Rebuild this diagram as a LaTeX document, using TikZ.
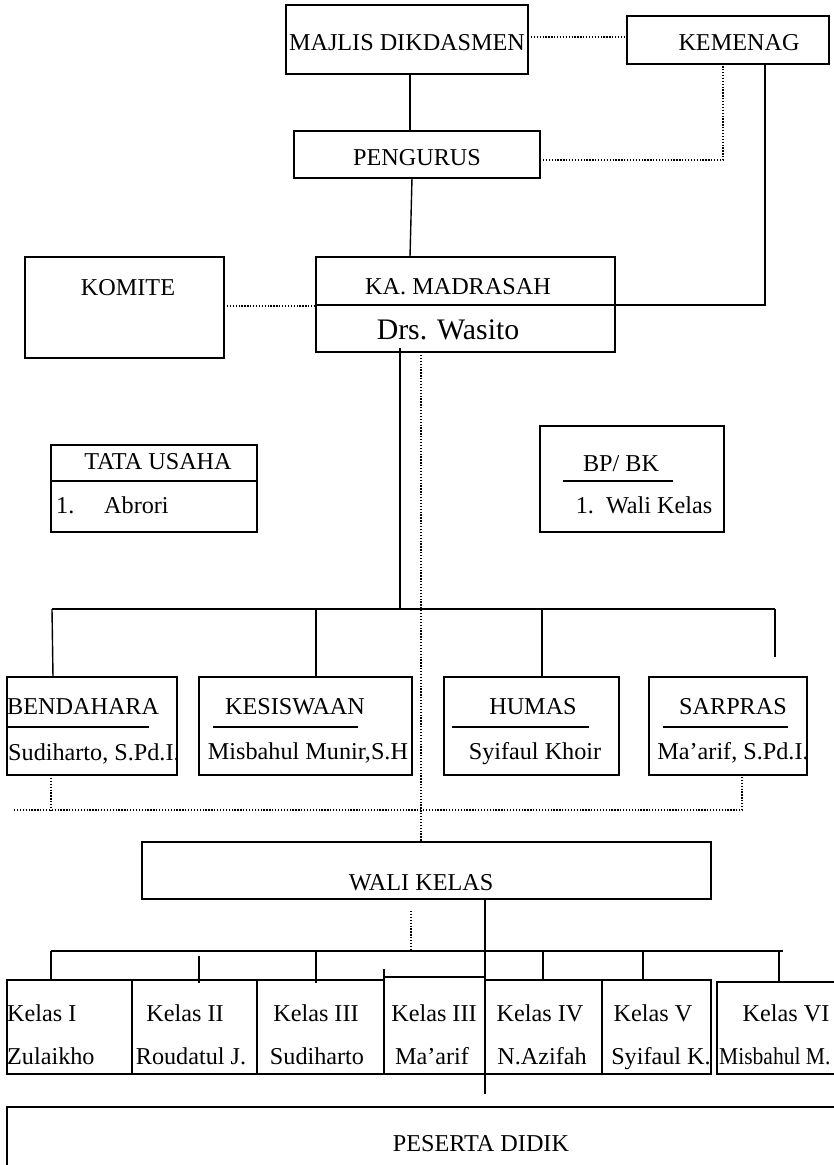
\documentclass[tikz,border=0pt]{standalone}
\usepackage{fontspec}
\setmainfont{Liberation Serif}
\begin{document}
\begin{tikzpicture}[x=1pt,y=-1pt,
  box/.style={draw,line width=1.6pt,inner sep=0pt,outer sep=0pt},
  txt/.style={inner sep=0pt,text height=16pt,text depth=0pt,font=\fontsize{24.2}{29}\selectfont},
  bigtxt/.style={inner sep=0pt,text height=19.7pt,text depth=0pt,font=\fontsize{29.8}{35}\selectfont},
  ln/.style={line width=1.4pt},
  rule/.style={line width=1.6pt},
  dot/.style={line width=1.3pt,dash pattern=on 1.3pt off 1.6pt}]
\useasboundingbox (0,0) rectangle (834,1165);
\clip (0,0) rectangle (834,1165);

% ---------- boxes ----------
\node[box,minimum width=242pt,minimum height=69pt] (majlis) at (407,39.5) {};
\node[box,minimum width=202pt,minimum height=48pt] (kemenag) at (728,40) {};
\node[box,minimum width=246pt,minimum height=47pt] (pengurus) at (417,154.5) {};
\node[box,minimum width=199pt,minimum height=101pt] (komite) at (124.5,307.5) {};
\node[box,minimum width=299pt,minimum height=95pt] (ka) at (465.5,304.5) {};
\node[box,minimum width=206pt,minimum height=87pt] (tata) at (154,488.5) {};
\node[box,minimum width=184pt,minimum height=106pt] (bpbk) at (632,479) {};
\node[box,minimum width=170pt,minimum height=98pt] (bendahara) at (92,726) {};
\node[box,minimum width=213pt,minimum height=98pt] (kesiswaan) at (305.5,726) {};
\node[box,minimum width=175pt,minimum height=98pt] (humas) at (531.5,726) {};
\node[box,minimum width=158pt,minimum height=98pt] (sarpras) at (728,726) {};
\node[box,minimum width=569pt,minimum height=57pt] (wali) at (426.5,870.5) {};
\node[box,minimum width=125pt,minimum height=94pt] (k1) at (69.5,1027) {};
\node[box,minimum width=125pt,minimum height=94pt] (k2) at (194.5,1027) {};
\node[box,minimum width=127pt,minimum height=94pt] (k3) at (320.5,1027) {};
\node[box,minimum width=101pt,minimum height=97pt] (k4) at (434.5,1025.5) {};
\node[box,minimum width=117pt,minimum height=94pt] (k5) at (543.5,1027) {};
\node[box,minimum width=109pt,minimum height=94pt] (k6) at (656.5,1027) {};
\node[box,minimum width=133pt,minimum height=92pt] (k7) at (783.5,1028) {};
\node[box,minimum width=843pt,minimum height=83pt] (peserta) at (428.5,1148.5) {};

% dividers and underlines
\draw[rule] (ka.west |- 0,305) -- (ka.east |- 0,305);
\draw[rule] (tata.west |- 0,481) -- (tata.east |- 0,481);
\draw[rule] (563,481) -- (673,481);
\draw[rule] (7,727) -- (149,727);
\draw[rule] (213,727) -- (358,727);
\draw[rule] (452,727) -- (589,727);
\draw[rule] (663,727) -- (788,727);

% ---------- texts ----------
\node[txt] (majlis-t) at (407,42) {MAJLIS DIKDASMEN};
\node[txt] (kemenag-t) at (739,42) {KEMENAG};
\node[txt] (pengurus-t) at (417,157) {PENGURUS};
\node[txt] (komite-t) at (128,287) {KOMITE};
\node[txt] (ka-t) at (458,286) {KA. MADRASAH};
\node[bigtxt] (ka-n) at (448,330) {Drs. Wasito};
\node[txt] (tata-t) at (158,461) {TATA USAHA};
\node[txt,anchor=west] (tata-1) at (56,505) {1.};
\node[txt,anchor=west] (tata-n) at (104,505) {Abrori};
\node[txt] (bpbk-t) at (621,463) {BP/ BK};
\node[txt] (bpbk-n) at (644,505) {1.\ \ Wali Kelas};
\node[txt,anchor=west] (bendahara-t) at (7,706) {BENDAHARA};
\node[txt,anchor=west] (bendahara-n) at (8,752) {Sudiharto, S.Pd.I.};
\node[txt] (kesiswaan-t) at (295,706) {KESISWAAN};
\node[txt] (kesiswaan-n) at (308,751) {Misbahul Munir,S.H};
\node[txt] (humas-t) at (533,706) {HUMAS};
\node[txt] (humas-n) at (535,751) {Syifaul Khoir};
\node[txt] (sarpras-t) at (733,706) {SARPRAS};
\node[txt] (sarpras-n) at (733,751) {Ma’arif, S.Pd.I.};
\node[txt] (wali-t) at (421,882) {WALI KELAS};
\node[txt,anchor=west] (k1-t) at (7,1013) {Kelas I};
\node[txt,anchor=west] (k1-n) at (7,1056) {Zulaikho};
\node[txt] (k2-t) at (185,1013) {Kelas II};
\node[txt] (k2-n) at (191,1056) {Roudatul J.};
\node[txt] (k3-t) at (316,1013) {Kelas III};
\node[txt] (k3-n) at (317,1056) {Sudiharto};
\node[txt] (k4-t) at (434,1013) {Kelas III};
\node[txt] (k4-n) at (432,1056) {Ma’arif};
\node[txt] (k5-t) at (540,1013) {Kelas IV};
\node[txt] (k5-n) at (542,1056) {N.Azifah};
\node[txt] (k6-t) at (653,1013) {Kelas V};
\node[txt] (k6-n) at (661,1056) {Syifaul K.};
\node[txt] (k7-t) at (786,1013) {Kelas VI};
\node[txt,anchor=west] (k7-n) at (719,1056) {\scalebox{0.89}[1]{Misbahul M.}};
\node[txt] (peserta-t) at (481,1143) {PESERTA DIDIK};

% ---------- connectors ----------
\draw[ln] (majlis.south -| 410,0) -- (pengurus.north -| 410,0);
\draw[dot] (majlis.east |- 0,37) -- (kemenag.west |- 0,37);
\draw[ln] (pengurus.south -| 412,0) -- (ka.north -| 410,0);
\coordinate (pk) at (723,160);
\draw[dot] (pengurus.east |- pk) -- (pk) -- (kemenag.south -| pk);
\coordinate (kr) at (765,305);
\draw[ln] (kemenag.south -| kr) -- (kr) -- (ka.east |- kr);
\draw[dot] (komite.east |- 0,306) -- (ka.west |- 0,306);
\coordinate (busc) at (400,609);
\draw[ln] (400,348) -- (busc);
\draw[dot] (ka.south -| 421,0) -- (wali.north -| 421,0);
\coordinate (busl) at (52,609);
\coordinate (busr) at (775,609);
\draw[ln] (busl) -- (busr);
\draw[ln] (busl) -- (bendahara.north -| 53,0);
\draw[ln] (316,609) -- (kesiswaan.north -| 316,0);
\draw[ln] (542,609) -- (humas.north -| 542,0);
\coordinate (sarend) at (775,657);
\draw[ln] (busr) -- (sarend);
\coordinate (dl) at (51,810);
\coordinate (dr) at (742,810);
\draw[dot] (bendahara.south -| dl) -- (dl);
\draw[dot] (14,810) -- (dr) -- (sarpras.south -| dr);
\coordinate (wd1) at (411,911);
\coordinate (wd2) at (411,949);
\draw[dot] (wd1) -- (wd2);
\coordinate (wend) at (485,1094);
\draw[ln] (wali.south -| wend) -- (wend);
\coordinate (kbl) at (51,951);
\coordinate (kbr) at (783,951);
\draw[ln] (kbl) -- (kbr);
\draw[ln] (kbl) -- (k1.north -| kbl);
\draw[ln] (199,956) -- (199,983);
\draw[ln] (316,951) -- (316,983);
\draw[ln] (k4.north west) -- ++(0,-8);
\draw[ln] (543,951) -- (k5.north -| 543,0);
\draw[ln] (643,951) -- (k6.north -| 643,0);
\draw[ln] (779,951) -- (k7.north -| 779,0);
\end{tikzpicture}
\end{document}
